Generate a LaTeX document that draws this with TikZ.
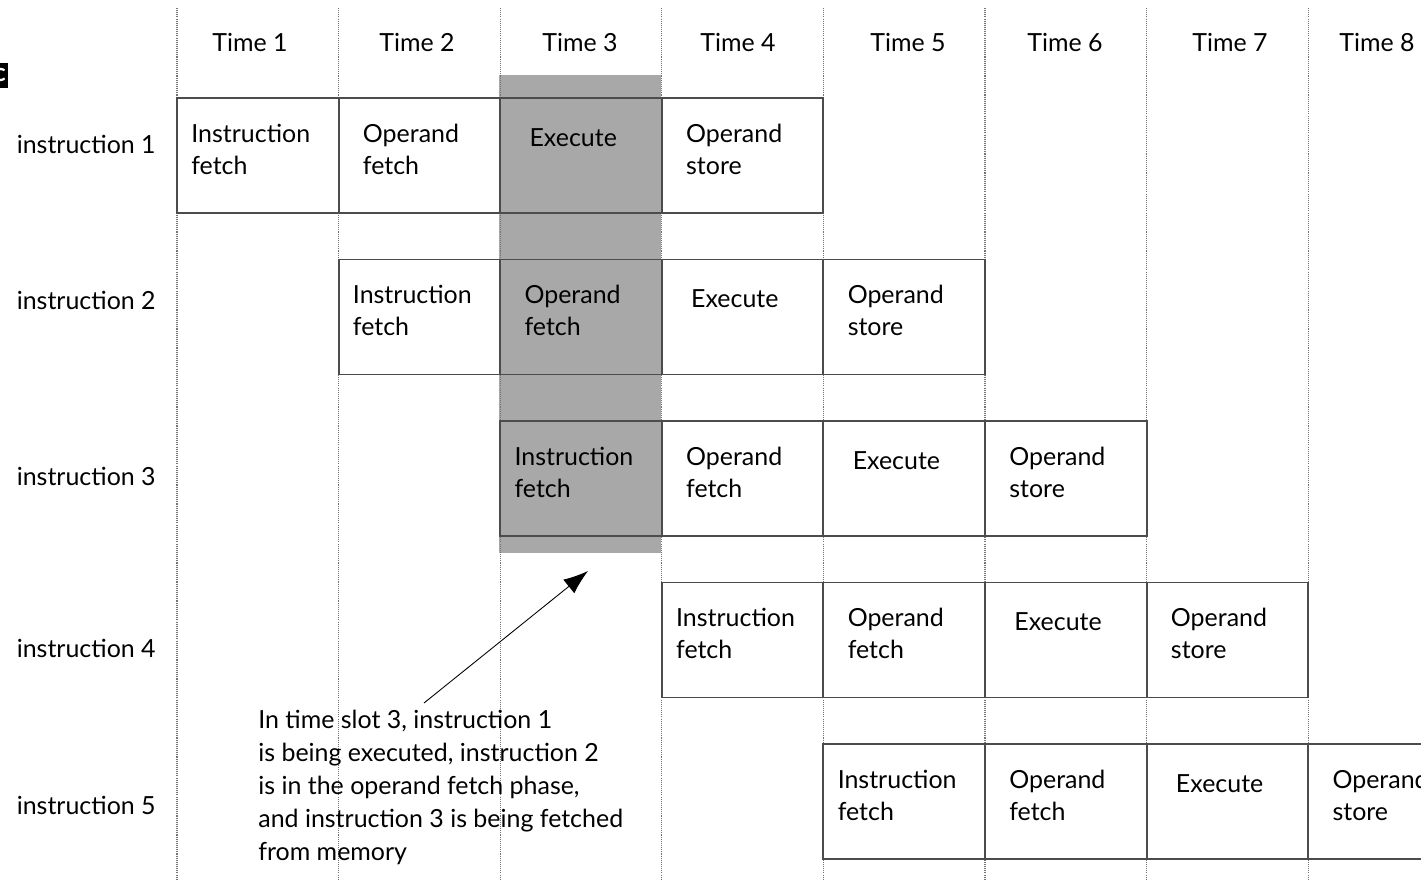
\documentclass[tikz,border=0pt]{standalone}
\usepackage{fontspec}
\setmainfont{Lato}
\usepackage{tikz}
\usetikzlibrary{arrows.meta}

\newcommand{\cellfont}{\fontsize{14.2}{18.2}\selectfont}
\tikzset{
  gridline/.style={black!55, line width=0.7pt, dash pattern=on 0.6pt off 0.6pt},
  stagebox/.style={draw=black!70, line width=1.1pt},
  stagetext/.style={anchor=north west, inner sep=0pt, align=left, font=\cellfont,
    execute at begin node=\strut},
  labeltext/.style={inner sep=0pt, font=\cellfont},
}

\begin{document}
\begin{tikzpicture}[x=0.02cm,y=-0.02cm]
\useasboundingbox (0,0) rectangle (1421,880);
% the slot that the note is about
\fill[black!34] (499,75) rectangle (661,553);
% time grid
\foreach \c in {0,...,7}
  \draw[gridline] (177+\c*161.6,8) -- (177+\c*161.6,880);
\foreach \c/\x in {1/250,2/417,3/580,4/738,5/908,6/1065,7/1230,8/1377}
  \node[labeltext, anchor=base] (time\c) at (\x,51) {Time \c};
\foreach \r/\y in {1/153,2/309,3/485,4/657,5/814}
  \node[labeltext, anchor=base east] (instr\r) at (156,\y) {instruction \r};
% pipeline stages
\foreach \r in {1,...,5}{
  \pgfmathsetmacro{\celly}{98+(\r-1)*161.5}
  \foreach \s/\txt/\dx in {0/{Instruction\\fetch}/14,1/{Operand\\fetch}/24,2/Execute/29,3/{Operand\\store}/24}{
    \pgfmathsetmacro{\cellx}{177+(\r-1+\s)*161.6}
    \draw[stagebox] (\cellx,\celly) rectangle (\cellx+161.6,\celly+115);
    \node[stagetext] (st\r\s) at (\cellx+\dx,\celly+25.5) {\txt};
  }
}
% note
\node[stagetext, align=left, execute at begin node={\baselineskip=18.8pt\strut}] (note) at (258,710) {In time slot 3, instruction 1\\is being executed, instruction 2\\is in the operand fetch phase,\\and instruction 3 is being fetched\\from memory};
\coordinate (tail) at (424,703);
\coordinate (tip) at (588,571);
\draw[-{Latex[length=14pt,width=10pt]}, line width=0.5pt] (tail) -- (tip);
% cut-off mark at the left edge
\node[fill=black, text=white, inner xsep=1pt, inner ysep=0pt, minimum height=0.5cm,
  anchor=east, font=\bfseries\Large] (cut) at (8,75) {c};
\end{tikzpicture}
\end{document}
